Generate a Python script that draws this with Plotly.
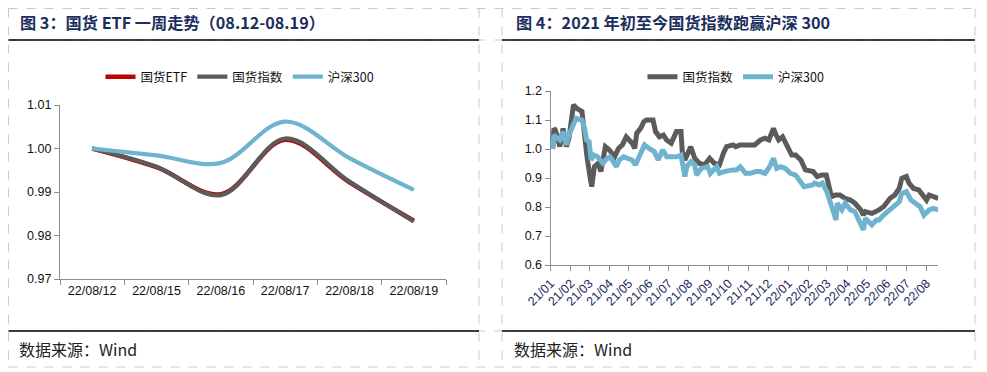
import plotly.graph_objects as go

# ---------------- data: left chart (one week) ----------------
week_dates = ['22/08/12', '22/08/15', '22/08/16', '22/08/17', '22/08/18', '22/08/19']
etf_week = [1.000, 0.9957, 0.9895, 1.0020, 0.9922, 0.9834]
gh_week = [1.000, 0.9958, 0.9893, 1.0023, 0.9924, 0.9832]
hs_week = [1.000, 0.9984, 0.9967, 1.0062, 0.9978, 0.9905]

# ---------------- data: right chart (since 2021) ----------------
gh_dates = ['2021-01-04', '2021-01-06', '2021-01-08', '2021-01-12', '2021-01-15', '2021-01-20',
            '2021-01-25', '2021-01-29', '2021-02-05', '2021-02-10', '2021-02-18', '2021-02-22',
            '2021-02-24', '2021-02-26', '2021-03-02', '2021-03-05', '2021-03-09', '2021-03-15',
            '2021-03-19', '2021-03-26', '2021-04-01', '2021-04-09', '2021-04-15', '2021-04-21',
            '2021-04-27', '2021-05-06', '2021-05-10', '2021-05-13', '2021-05-19', '2021-05-24',
            '2021-05-28', '2021-06-07', '2021-06-11', '2021-06-17', '2021-06-23', '2021-06-28',
            '2021-07-05', '2021-07-08', '2021-07-13', '2021-07-20', '2021-07-22', '2021-07-26',
            '2021-07-30', '2021-08-04', '2021-08-10', '2021-08-17', '2021-08-25', '2021-09-02',
            '2021-09-09', '2021-09-17', '2021-09-23', '2021-09-28', '2021-10-08', '2021-10-12',
            '2021-10-19', '2021-10-29', '2021-11-10', '2021-11-19', '2021-11-26', '2021-12-02',
            '2021-12-09', '2021-12-13', '2021-12-17', '2021-12-23', '2021-12-30', '2022-01-06',
            '2022-01-12', '2022-01-20', '2022-01-27', '2022-02-08', '2022-02-14', '2022-02-21',
            '2022-02-28', '2022-03-03', '2022-03-08', '2022-03-14', '2022-03-21', '2022-03-29',
            '2022-04-06', '2022-04-13', '2022-04-19', '2022-04-22', '2022-04-26', '2022-04-29',
            '2022-05-09', '2022-05-16', '2022-05-20', '2022-05-27', '2022-06-06', '2022-06-13',
            '2022-06-20', '2022-06-24', '2022-07-01', '2022-07-05', '2022-07-12', '2022-07-20',
            '2022-07-27', '2022-08-01', '2022-08-05', '2022-08-11', '2022-08-19']
gh_vals = [1.000, 1.071, 1.066, 1.031, 1.008, 1.071,
           1.008, 1.037, 1.152, 1.140, 1.129, 1.048,
           0.979, 0.968, 0.910, 0.870, 0.939, 0.951,
           0.922, 1.008, 0.997, 0.973, 1.002, 1.014,
           1.042, 1.020, 1.002, 1.054, 1.071, 1.094,
           1.100, 1.100, 1.060, 1.042, 1.048, 1.031,
           1.020, 1.037, 1.060, 1.060, 0.991, 0.962,
           0.985, 1.008, 0.968, 0.951, 0.945, 0.968,
           0.951, 0.945, 0.985, 1.008, 1.014, 1.008,
           1.014, 1.014, 1.014, 1.031, 1.037, 1.031,
           1.071, 1.048, 1.031, 1.042, 1.014, 0.979,
           0.979, 0.962, 0.928, 0.922, 0.905, 0.910,
           0.910, 0.876, 0.836, 0.841, 0.841, 0.830,
           0.824, 0.813, 0.801, 0.790, 0.772, 0.784,
           0.778, 0.784, 0.790, 0.801, 0.830, 0.841,
           0.864, 0.899, 0.905, 0.882, 0.864, 0.859,
           0.841, 0.824, 0.841, 0.836, 0.830]

hs_dates = ['2021-01-04', '2021-01-06', '2021-01-11', '2021-01-15', '2021-01-20', '2021-01-25',
            '2021-01-29', '2021-02-05', '2021-02-09', '2021-02-18', '2021-02-22', '2021-02-25',
            '2021-03-01', '2021-03-04', '2021-03-08', '2021-03-14', '2021-03-22', '2021-03-29',
            '2021-04-02', '2021-04-12', '2021-04-16', '2021-04-23', '2021-05-06', '2021-05-11',
            '2021-05-17', '2021-05-25', '2021-06-01', '2021-06-09', '2021-06-15', '2021-06-22',
            '2021-06-28', '2021-07-06', '2021-07-13', '2021-07-20', '2021-07-26', '2021-07-29',
            '2021-08-04', '2021-08-10', '2021-08-13', '2021-08-20', '2021-08-30', '2021-09-03',
            '2021-09-13', '2021-09-17', '2021-09-24', '2021-10-08', '2021-10-13', '2021-10-19',
            '2021-10-27', '2021-11-04', '2021-11-12', '2021-11-19', '2021-11-26', '2021-12-03',
            '2021-12-09', '2021-12-14', '2021-12-20', '2021-12-27', '2022-01-04', '2022-01-12',
            '2022-01-17', '2022-01-25', '2022-02-07', '2022-02-10', '2022-02-17', '2022-02-22',
            '2022-03-01', '2022-03-07', '2022-03-10', '2022-03-15', '2022-03-17', '2022-03-24',
            '2022-03-29', '2022-04-06', '2022-04-13', '2022-04-19', '2022-04-26', '2022-04-29',
            '2022-05-09', '2022-05-16', '2022-05-20', '2022-05-27', '2022-06-06', '2022-06-13',
            '2022-06-20', '2022-06-24', '2022-07-01', '2022-07-08', '2022-07-15', '2022-07-22',
            '2022-07-28', '2022-08-05', '2022-08-11', '2022-08-19']
hs_vals = [1.000, 1.048, 1.037, 1.031, 1.060, 1.014,
           1.048, 1.089, 1.106, 1.100, 1.071, 1.031,
           1.025, 0.962, 0.979, 0.973, 0.951, 0.968,
           0.973, 0.939, 0.962, 0.973, 0.962, 0.945,
           0.979, 1.014, 1.002, 0.991, 0.962, 0.997,
           0.973, 0.973, 0.973, 0.979, 0.905, 0.939,
           0.956, 0.945, 0.910, 0.933, 0.939, 0.916,
           0.939, 0.916, 0.922, 0.928, 0.928, 0.939,
           0.916, 0.916, 0.922, 0.922, 0.916, 0.939,
           0.968, 0.933, 0.939, 0.933, 0.916, 0.910,
           0.893, 0.870, 0.876, 0.882, 0.876, 0.882,
           0.853, 0.813, 0.800, 0.755, 0.813, 0.790,
           0.813, 0.790, 0.784, 0.755, 0.721, 0.761,
           0.738, 0.755, 0.755, 0.772, 0.790, 0.801,
           0.818, 0.847, 0.853, 0.824, 0.813, 0.801,
           0.772, 0.790, 0.795, 0.790]

month_ticks = ['2021-01-01', '2021-02-01', '2021-03-01', '2021-04-01', '2021-05-01', '2021-06-01',
               '2021-07-01', '2021-08-01', '2021-09-01', '2021-10-01', '2021-11-01', '2021-12-01',
               '2022-01-01', '2022-02-01', '2022-03-01', '2022-04-01', '2022-05-01', '2022-06-01',
               '2022-07-01', '2022-08-01']
month_labels = ['21/01', '21/02', '21/03', '21/04', '21/05', '21/06', '21/07', '21/08', '21/09',
                '21/10', '21/11', '21/12', '22/01', '22/02', '22/03', '22/04', '22/05', '22/06',
                '22/07', '22/08']

title_left = '图 3：国货 ETF 一周走势（08.12-08.19）'
title_right = '图 4：2021 年初至今国货指数跑赢沪深 300'
source_text = '数据来源：Wind'

# ---------------- style ----------------
# the page body has an 8px margin, so the figure is sized to fit the window
OFF = 8
W, H = 987 - OFF, 372 - OFF
RED = '#c00000'
GREY = '#5b5b5b'
BLUE = '#6fb3cf'
FONT = 'Liberation Sans, Arial, Noto Sans CJK SC, sans-serif'
CJK = 'Noto Sans CJK SC, Liberation Sans, sans-serif'
AX = '#8c8c8c'


def px(x):
    return (x - OFF) / W


def py(y):
    return 1 - (y - OFF) / H


fig = go.Figure()

fig.add_trace(go.Scatter(x=week_dates, y=etf_week, name='国货ETF', mode='lines',
                         line=dict(color=RED, width=4.5, shape='spline', smoothing=1),
                         xaxis='x', yaxis='y', legend='legend'))
fig.add_trace(go.Scatter(x=week_dates, y=gh_week, name='国货指数', mode='lines',
                         line=dict(color=GREY, width=4.2, shape='spline', smoothing=1),
                         xaxis='x', yaxis='y', legend='legend'))
fig.add_trace(go.Scatter(x=week_dates, y=hs_week, name='沪深300', mode='lines',
                         line=dict(color=BLUE, width=4.2, shape='spline', smoothing=1),
                         xaxis='x', yaxis='y', legend='legend'))

fig.add_trace(go.Scatter(x=gh_dates, y=gh_vals, name='国货指数', mode='lines',
                         line=dict(color=GREY, width=5),
                         xaxis='x2', yaxis='y2', legend='legend2'))
fig.add_trace(go.Scatter(x=hs_dates, y=hs_vals, name='沪深300', mode='lines',
                         line=dict(color=BLUE, width=5),
                         xaxis='x2', yaxis='y2', legend='legend2'))

axis_common = dict(showline=True, linecolor=AX, linewidth=1.3, ticks='outside', tickcolor=AX,
                   ticklen=5, tickwidth=1.3, showgrid=False, zeroline=False, automargin=False,
                   tickfont=dict(family=FONT, size=12.5, color='#111'))

fig.update_layout(
    template='none',
    width=W, height=H, autosize=False,
    margin=dict(l=0, r=0, t=0, b=0, pad=0),
    paper_bgcolor='white', plot_bgcolor='white',
    font=dict(family=FONT, color='#111'),
    xaxis=dict(domain=[px(60), px(446)], type='category', range=[-0.5, 5.5],
               tickson='boundaries', anchor='y', **axis_common),
    yaxis=dict(domain=[py(279), py(105)], range=[0.97, 1.01], dtick=0.01, tickformat='.2f',
               anchor='x', **axis_common),
    xaxis2=dict(domain=[px(550.7), px(938.3)], type='date', range=['2021-01-01', '2022-08-19'],
                tickmode='array', tickvals=month_ticks, ticktext=month_labels, tickangle=-45,
                anchor='y2', **{**axis_common, 'tickfont': dict(family=FONT, size=12.5, color='#1a2a5a')}),
    yaxis2=dict(domain=[py(265), py(91)], range=[0.6, 1.2], dtick=0.1, tickformat='.1f',
                anchor='x2', **axis_common),
    legend=dict(orientation='h', x=px(240), y=py(77), xanchor='center', yanchor='middle',
                font=dict(family=CJK, size=12.5, color='#111'), itemwidth=30,
                bgcolor='rgba(0,0,0,0)', tracegroupgap=0),
    legend2=dict(orientation='h', x=px(736), y=py(77), xanchor='center', yanchor='middle',
                 font=dict(family=CJK, size=12.5, color='#111'), itemwidth=30,
                 bgcolor='rgba(0,0,0,0)', tracegroupgap=0),
    showlegend=True,
)

shapes = []
dash = dict(color='#c8c8c8', width=1, dash='dash')
L_EDGE, T_EDGE = 8.5, 8.5
for y in [T_EDGE, 40, 331, 367]:
    shapes.append(dict(type='line', xref='paper', yref='paper', x0=px(L_EDGE), x1=px(975),
                       y0=py(y), y1=py(y), line=dash, layer='below'))
for x in [L_EDGE, 479, 502, 975]:
    shapes.append(dict(type='line', xref='paper', yref='paper', x0=px(x), x1=px(x),
                       y0=py(T_EDGE), y1=py(367), line=dash, layer='below'))
for y in [40, 331]:
    for (a, b) in [(L_EDGE, 479), (502, 975)]:
        shapes.append(dict(type='line', xref='paper', yref='paper', x0=px(a), x1=px(b),
                           y0=py(y), y1=py(y), line=dict(color='black', width=1.6)))
fig.update_layout(shapes=shapes)

ann = []
for x, t in [(18, title_left), (514, title_right)]:
    ann.append(dict(xref='paper', yref='paper', x=px(x), y=py(22), xanchor='left', yanchor='middle',
                    text='<b>' + t + '</b>', showarrow=False,
                    font=dict(family=CJK, size=16.2, color='#1c2f5c')))
for x in [17, 512]:
    ann.append(dict(xref='paper', yref='paper', x=px(x), y=py(349), xanchor='left', yanchor='middle',
                    text=source_text, showarrow=False,
                    font=dict(family=CJK, size=16, color='#222')))
fig.update_layout(annotations=ann)

fig.write_html('out.html')
